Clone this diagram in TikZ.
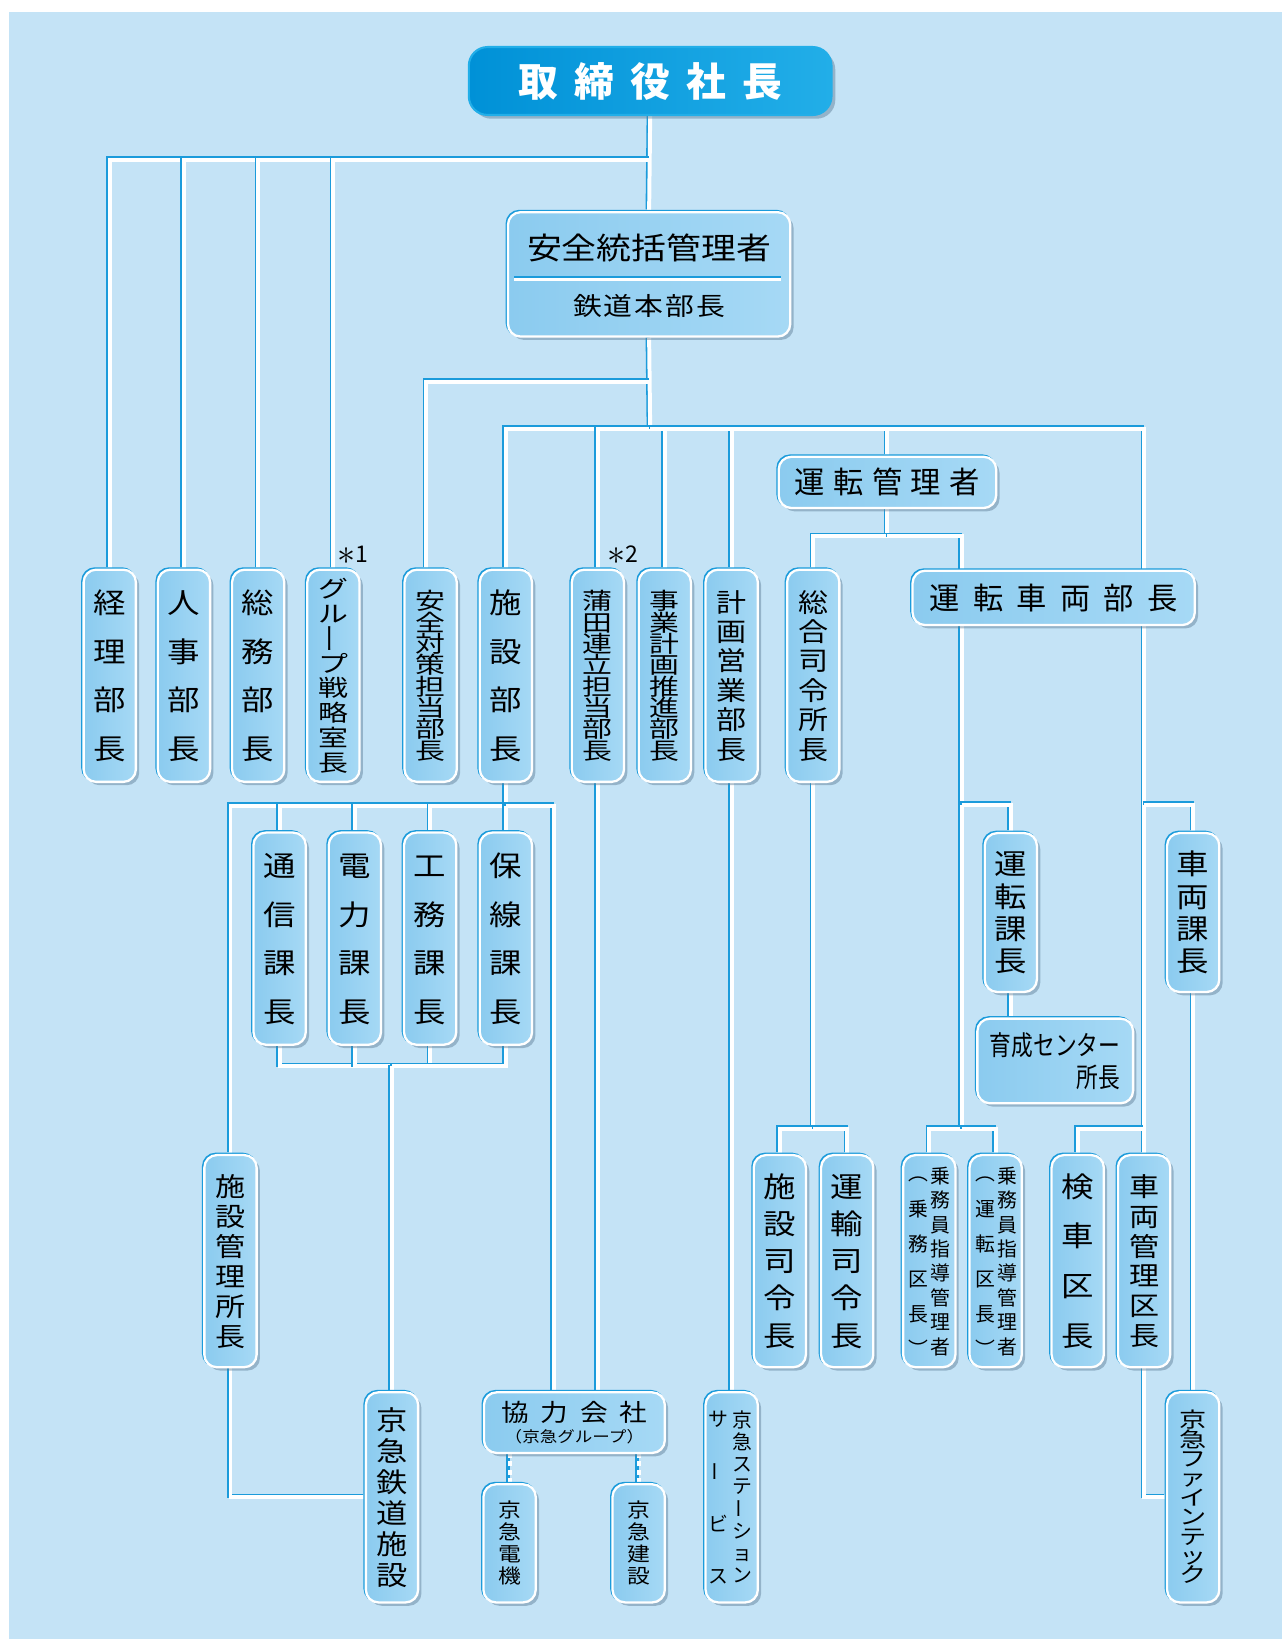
\documentclass[tikz,border=0pt]{standalone}
\usepackage{fontspec}
\usepackage{graphicx}
\setmainfont{Noto Sans CJK JP}
\newfontfamily\widefont{Noto Sans CJK JP}[FakeStretch=1.15]
\newfontfamily\xwidefont{Noto Sans CJK JP}[FakeStretch=1.3]
\newfontfamily\narrowfont{Noto Sans CJK JP}[FakeStretch=0.8]
\usetikzlibrary{shadows}

\definecolor{bgblue}{HTML}{C4E3F6}
\definecolor{boxa}{HTML}{8BCBEF}
\definecolor{boxb}{HTML}{A6D9F5}
\definecolor{lineblue}{HTML}{1B9BDB}
\definecolor{chiefa}{HTML}{0091D7}
\definecolor{chiefb}{HTML}{22AEE8}
\definecolor{shadowc}{HTML}{5A7A94}

\pgfdeclarelayer{back}
\pgfdeclarelayer{wires}
\pgfsetlayers{back,wires,main}

\makeatletter
% stack characters top to bottom with a fixed pitch
\newcommand{\vst}[2]{\vbox{\baselineskip=#1\relax\lineskiplimit=-\maxdimen\lineskip=0pt
  \expandafter\@tfor\expandafter\vch\expandafter:\expandafter=#2\do{%
    \hbox to 0pt{\hss\vrule height 0.88em depth 0.12em width 0pt\vch\hss}}}}
% set characters side by side with a gap
\newcommand{\spread}[2]{\def\spsep{}%
  \expandafter\@tfor\expandafter\vch\expandafter:\expandafter=#2\do{\spsep\vch\def\spsep{\hspace{#1}}}}
\makeatother
\newcommand{\tatebar}{\raisebox{0.15em}{\rotatebox[origin=c]{90}{ー}}}

\tikzset{
  link/.style={draw=white, line width=1.9pt,
    preaction={draw=lineblue, line width=1.9pt, transform canvas={shift={(-0.75pt,0.75pt)}}}},
  dlink/.style={link, dash pattern=on 2.5pt off 1.5pt},
  rule/.style={draw=white, line width=1.4pt,
    preaction={draw=lineblue, line width=1.4pt, transform canvas={shift={(0pt,0.6pt)}}}},
  post/.style={rounded corners=6pt, left color=boxa, right color=boxb, draw=white,
    line width=1.1pt, inner sep=0pt,
    drop shadow={shadow xshift=1.6pt, shadow yshift=-1.6pt, opacity=0.45, fill=shadowc},
    preaction={draw=lineblue, line width=1.1pt, transform canvas={shift={(-0.6pt,0.6pt)}}}},
  vpost/.style={post, minimum width=25pt, minimum height=101.5pt},
  chief/.style={rounded corners=9pt, left color=chiefa, right color=chiefb, draw=chiefb,
    line width=1pt, minimum width=173.5pt, minimum height=32.5pt, text=white,
    font={\fontsize{19}{19}\selectfont\bfseries},
    drop shadow={shadow xshift=1.8pt, shadow yshift=-1.8pt, opacity=0.45, fill=shadowc}},
  note/.style={font={\fontsize{11}{11}\selectfont}},
  twocol/.style={font={\fontsize{9.5}{9.5}\selectfont}}
}

\begin{document}
\begin{tikzpicture}[x=0.5pt, y=-0.5pt]
  \useasboundingbox (0,0) rectangle (1226,1568);
  \begin{pgfonlayer}{back}
    \fill[white] (0,0) rectangle (1226,1568);
    \fill[bgblue] (8.5,11.5) rectangle (1226,1568);
  \end{pgfonlayer}

  % President and safety manager
  \node[chief] (pres) at (622,77.5) {\spread{7.75pt}{取締役社長}};
  \node[post, minimum width=135pt, minimum height=59.5pt] (ssm) at (621,262.5) {};
  \node[font={\widefont\fontsize{14.5}{14.5}\selectfont}] (ssmtop) at (621,237) {安全統括管理者};
  \node[font={\widefont\fontsize{12}{12}\selectfont}] (ssmbot) at (621,293) {\spread{0.95pt}{鉄道本部長}};
  \coordinate (sepL) at (492,267);
  \coordinate (sepR) at (747,267);
  \draw[rule] (sepL) -- (sepR);

  % Operation manager
  \node[post, minimum width=104pt, minimum height=24.5pt, font={\fontsize{14.5}{14.5}\selectfont}]
    (unkan) at (849,461.5) {\spread{4pt}{運転管理者}};
  \node[post, minimum width=135pt, minimum height=26pt, font={\fontsize{14.5}{14.5}\selectfont}]
    (sharyobu) at (1008,572) {\spread{6.3pt}{運転車両部長}};

  % Department heads
  \foreach \nm/\xx/\fz/\gp/\tx in {keiri/105/13.5/23.3pt/経理部長, jinji/176/13.5/23.3pt/人事部長,
      somu/247/13.5/23.3pt/総務部長, shisetsu/484/13.5/23.3pt/施設部長,
      keikaku/700/12.5/14.1pt/計画営業部長, sogo/778/12.5/14.1pt/総合司令所長}
    \node[vpost, font={\widefont\fontsize{\fz}{\fz}\selectfont}] (\nm) at (\xx,646.5) {\vst{\gp}{\tx}};
  \foreach \nm/\xx/\gp/\tx in {group/319/11.9pt/グル\tatebar プ戦略室長,
      anzen/412/10.2pt/安全対策担当部長, kamata/572/10.2pt/蒲田連立担当部長,
      jigyo/636/10.2pt/事業計画推進部長}
    \node[vpost, font={\xwidefont\fontsize{11}{11}\selectfont}] (\nm) at (\xx,646.5) {\vst{\gp}{\tx}};
  \node[note] (ast1) at (338,531) {\raisebox{-1pt}{\fontsize{16}{16}\selectfont$\ast$}1};
  \node[note] (ast2) at (596,531) {\raisebox{-1pt}{\fontsize{16}{16}\selectfont$\ast$}2};

  % Section chiefs
  \foreach \nm/\xx/\tx in {tsushin/267.5/通信課長, denryoku/339.5/電力課長,
      komu/411.5/工務課長, hosen/484/保線課長}
    \node[vpost, font={\widefont\fontsize{13.5}{13.5}\selectfont}] (\nm) at (\xx,898) {\vst{23.3pt}{\tx}};
  \node[vpost, minimum height=76pt, font={\widefont\fontsize{13.5}{13.5}\selectfont}]
    (unkacho) at (967,873) {\vst{15.5pt}{運転課長}};
  \node[vpost, minimum height=76pt, font={\widefont\fontsize{13.5}{13.5}\selectfont}]
    (sharyoka) at (1141.5,873) {\vst{15.5pt}{車両課長}};
  \node[post, minimum width=74.5pt, minimum height=40.5pt, align=right,
    font={\narrowfont\fontsize{13}{15.5}\selectfont}] (ikusei) at (1009.5,1015) {育成センター\\所長};

  % Field offices
  \foreach \nm/\xx/\fz/\gp/\tx in {shikan/220.5/12.5/14.35pt/施設管理所長,
      shirei/746/13.5/17.75pt/施設司令長, yusou/810.5/13.5/17.75pt/運輸司令長,
      kensha/1031/13.5/23.8pt/検車区長, kanri/1094.5/12.5/14.2pt/車両管理区長}
    \node[vpost, font={\widefont\fontsize{\fz}{\fz}\selectfont}] (\nm) at (\xx,1206.5) {\vst{\gp}{\tx}};
  \node[vpost] (jomu1) at (889,1206.5) {};
  \node[twocol] (jomu1r) at ([xshift=5.5pt]jomu1.center) {\vst{11.7pt}{乗務員指導管理者}};
  \node[twocol] (jomu1l) at ([xshift=-5pt]jomu1.center) {\vst{16.8pt}{︵乗務区長︶}};
  \node[vpost] (jomu2) at (952.5,1206.5) {};
  \node[twocol] (jomu2r) at ([xshift=5.5pt]jomu2.center) {\vst{11.7pt}{乗務員指導管理者}};
  \node[twocol] (jomu2l) at ([xshift=-5pt]jomu2.center) {\vst{16.8pt}{︵運転区長︶}};

  % Group companies
  \node[vpost, minimum height=100.5pt, font={\widefont\fontsize{13}{13}\selectfont}]
    (kdoro) at (375,1432.5) {\vst{14.8pt}{京急鉄道施設}};
  \node[vpost, minimum height=100.5pt, font={\xwidefont\fontsize{10}{10}\selectfont}]
    (fine) at (1141.5,1432.5) {\vst{9.25pt}{京急ファインテック}};
  \node[vpost, minimum height=100.5pt] (station) at (700,1432.5) {};
  \node[twocol] (stationr) at ([xshift=5pt]station.center) {\vst{10.6pt}{京急ステ\tatebar ション}};
  \node[twocol] (stationl) at ([xshift=-6.5pt]station.center) {\vst{25pt}{サ\tatebar ビス}};
  \node[post, minimum width=86.5pt, minimum height=29pt, align=center,
    font={\widefont\fontsize{11.5}{10}\selectfont}] (kyoryoku) at (549.5,1361)
    {\spread{5.6pt}{協力会社}\\{\fontsize{7.3}{10}\selectfont （京急グループ）}};
  \node[vpost, minimum height=56.5pt, font={\widefont\fontsize{9.5}{9.5}\selectfont}]
    (denki) at (487.5,1476.5) {\vst{10.5pt}{京急電機}};
  \node[vpost, minimum height=56.5pt, font={\widefont\fontsize{9.5}{9.5}\selectfont}]
    (kensetsu) at (611,1476.5) {\vst{10.5pt}{京急建設}};

  \begin{pgfonlayer}{wires}
    % president to staff departments
    \draw[link] (pres.south) -- (ssm.north);
    \coordinate (b0) at (622,153);
    \foreach \nm in {keiri,jinji,somu,group}
      \draw[link] (b0) -| (\nm.north);

    % railway headquarters
    \coordinate (b1) at (622,365);
    \coordinate (b2) at (622,410);
    \draw[link] (ssm.south) -- (b2);
    \draw[link] (b1) -| ([xshift=-2pt]anzen.north);
    \foreach \nm in {shisetsu,kamata,jigyo,keikaku,unkan,kanri}
      \draw[link] (b2) -| (\nm.north);

    % operation side
    \coordinate (b3) at (849,513);
    \coordinate (t1) at (920,1080);
    \coordinate (t1a) at (920,770);
    \draw[link] (unkan.south) -- (b3);
    \draw[link] (b3) -| (sogo.north);
    \draw[link] (b3) -| (t1);
    \draw[link] (t1a) -| (unkacho.north);
    \draw[link] (unkacho.south) -- (unkacho.south |- ikusei.north);
    \draw[link] (t1) -| (jomu1.north);
    \draw[link] (t1) -| (jomu2.north);
    \coordinate (b7) at (778,1080);
    \draw[link] (sogo.south) -- (b7);
    \draw[link] (b7) -| (shirei.north);
    \draw[link] (b7) -| (yusou.north);

    % rolling stock side
    \coordinate (t2a) at (1094.5,770);
    \coordinate (t2b) at (1094.5,1080);
    \draw[link] (t2a) -| (sharyoka.north);
    \draw[link] (t2b) -| (kensha.north);
    \draw[link] (sharyoka.south) -- (fine.north);
    \draw[link] (kanri.south) |- (fine.west);

    % facilities
    \coordinate (b4) at (484,771);
    \coordinate (b5) at (375,1020);
    \draw[link] (shisetsu.south) -- (b4);
    \foreach \nm in {shikan,tsushin,denryoku,komu,hosen}
      \draw[link] (b4) -| (\nm.north);
    \draw[link] (b4) -| ([xshift=-9.75pt]kyoryoku.north);
    \foreach \nm in {tsushin,denryoku,komu,hosen}
      \draw[link] (\nm.south) |- (b5);
    \draw[link] (b5) -- (kdoro.north);
    \draw[link] (shikan.south) |- (kdoro.west);
    \draw[link] (kamata.south) -- (kamata.south |- kyoryoku.north);
    \draw[link] (keikaku.south) -- (station.north);
    \draw[dlink] (denki.north) -- (denki.north |- kyoryoku.south);
    \draw[dlink] (kensetsu.north) -- (kensetsu.north |- kyoryoku.south);
  \end{pgfonlayer}
\end{tikzpicture}
\end{document}
